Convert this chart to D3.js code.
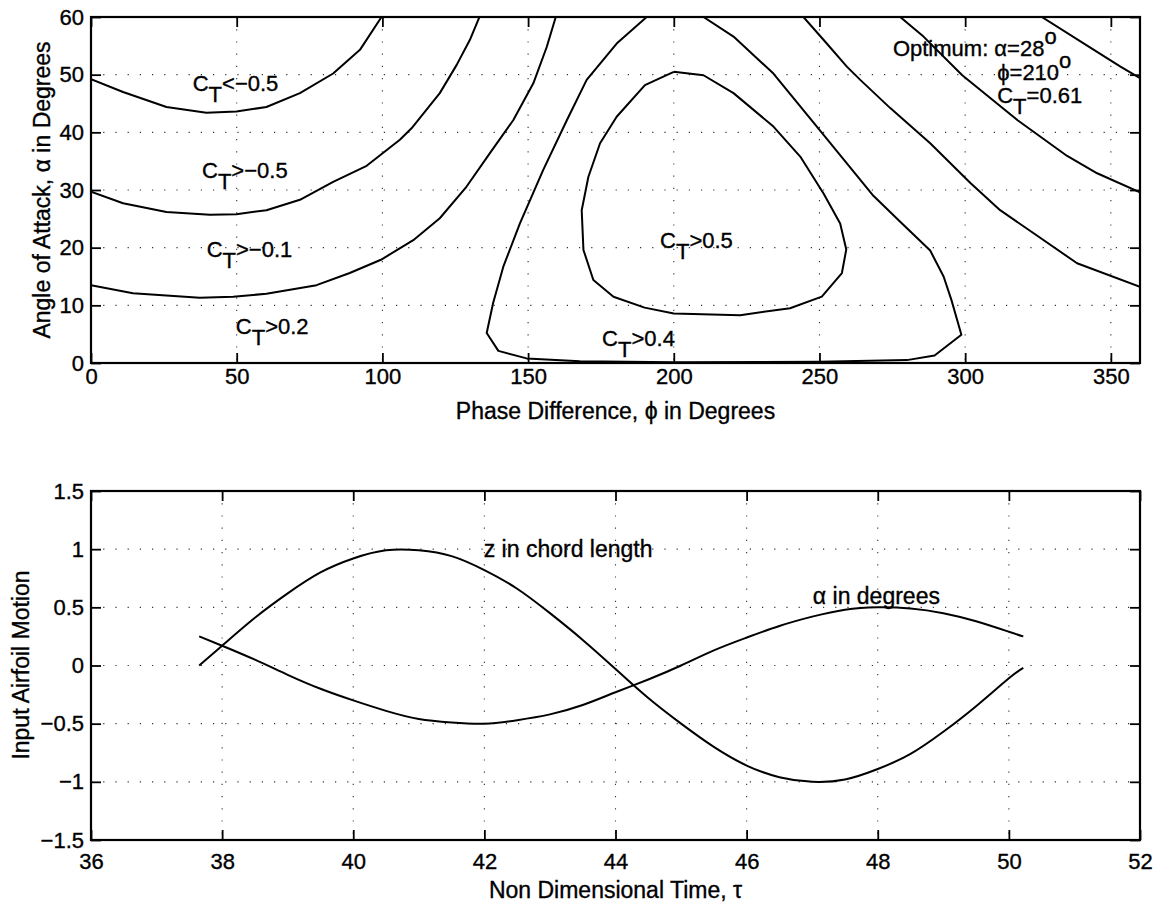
<!DOCTYPE html>
<html lang="en">
<head>
<meta charset="utf-8">
<title>Thrust coefficient map and airfoil motion</title>
<script src="https://cdn.jsdelivr.net/npm/d3@7"></script>
<style>
  body { margin: 0; background: #fff; }
  svg { display: block; font-family: "Liberation Sans", Arial, Helvetica, sans-serif; }
  svg text { stroke: #000; stroke-width: 0.35; }
  .grid line { stroke: #333; stroke-width: 1.1; stroke-dasharray: 1.2 11; }
  .curve { fill: none; stroke: #000; stroke-width: 2; stroke-linejoin: round; }
  .note { font-size: 22px; fill: #000; }
  .note.big { font-size: 23px; }
  .axis-title { font-size: 23px; fill: #000; }
</style>
</head>
<body>
<script>

// C_T contours, [phase difference (deg), angle of attack (deg)]
var ctMinus05Left = [[0,49.2],[11,47.0],[25.9,44.4],[39.6,43.4],[49.9,43.6],[60.2,44.4],[71.7,46.8],[83.1,50.2],[92.3,54.3],[99.7,60]];
var ctMinus01Left = [[0,29.7],[11,27.7],[25.9,26.2],[40.8,25.7],[49.9,25.8],[60.2,26.5],[71.7,28.3],[83.1,31.4],[94.6,34.2],[106,38.7],[110,40.7],[119.7,46.8],[125.5,51.7],[130,56.0],[133.3,60]];
var ctPlus02Left = [[0,13.5],[14.4,12.1],[37.3,11.3],[48.8,11.5],[60.2,12.0],[77.4,13.5],[88.8,15.6],[99.5,17.9],[110.6,21.3],[119.7,25.1],[128.9,30.6],[136.9,36.4],[144.9,42.1],[151.8,48.5],[156.4,54.8],[159.5,60]];
var ctPlus04 = [[190.7,60],[180.4,55.4],[170.1,49.1],[163.3,42.1],[155.2,33.5],[147.2,24.2],[141.5,16.7],[138.0,10.4],[135.8,5.2],[139.8,2.1],[149.5,0.8],[167.8,0.3],[200,0.15],[250,0.2],[280,0.5],[289.5,1.3],[298.7,4.9],[295.3,10.9],[292.6,15.0],[288,19.5],[277.7,24.5],[268.5,29.0],[259.4,34.6],[249.1,41.0],[234.2,50.2],[220.5,56.6],[210.2,60]];
var ctPlus05 = [[200,50.5],[210.2,49.9],[220.5,46.8],[234.2,41.0],[243.4,35.8],[251.4,29.4],[257.1,24.2],[259.2,19.7],[257.7,15.6],[250.8,11.5],[239.9,9.5],[222.8,8.3],[200,8.6],[190,9.6],[179.3,11.5],[172.4,14.4],[169.0,19.6],[168.4,26.5],[170.7,32.3],[174.7,38.1],[180.4,42.7],[190.1,48.2],[195.3,49.4],[200,50.5]];
var ctPlus02Right = [[244.5,60],[252.5,55.4],[259.4,51.4],[264,49.1],[274.3,44.2],[288,38.1],[301.8,31.2],[312,26.5],[323.5,22.5],[338.4,17.3],[360,13.2]];
var ctMinus01Right = [[277.7,60],[285.7,56.6],[299,49.9],[318,42.1],[335,35.9],[345.3,32.9],[360,29.6]];
var ctMinus05Right = [[326.3,60],[343.5,54.5],[353.3,51.4],[360,49.4]];

var contours = [ctMinus05Left, ctMinus01Left, ctPlus02Left, ctPlus04, ctPlus05,
                ctPlus02Right, ctMinus01Right, ctMinus05Right];

// region labels, anchored in (phi, alpha)
var regionLabels = [
  {rel: "<\u22120.5", phi: 34.9, alpha: 47.1},
  {rel: ">\u22120.5", phi: 38.1, alpha: 32.0},
  {rel: ">\u22120.1", phi: 39.7, alpha: 18.4},
  {rel: ">0.2",       phi: 49.7, alpha: 5.0},
  {rel: ">0.4",       phi: 175.4, alpha: 2.9},
  {rel: ">0.5",       phi: 195.3, alpha: 20.0}
];

// input motion vs non-dimensional time
var tau = [37.65,38,38.5,39,39.5,40,40.5,41,41.5,42,42.5,43,43.5,44,44.5,45,45.5,46,46.5,47,47.5,48,48.5,49,49.5,50,50.22];
var zChord = [0,0.17,0.41,0.62,0.80,0.92,0.99,0.99,0.94,0.82,0.66,0.45,0.22,-0.03,-0.28,-0.50,-0.70,-0.86,-0.96,-1.00,-0.98,-0.89,-0.76,-0.57,-0.35,-0.11,-0.02];
var alphaIn = [0.25,0.17,0.05,-0.08,-0.20,-0.30,-0.39,-0.46,-0.49,-0.50,-0.47,-0.42,-0.34,-0.23,-0.12,0.00,0.13,0.24,0.34,0.42,0.48,0.50,0.49,0.45,0.38,0.29,0.25];

var phiTicks = [0,50,100,150,200,250,300,350];
var alphaTicks = [0,10,20,30,40,50,60];
var tauTicks = [36,38,40,42,44,46,48,50,52];
var motionTicks = [-1.5,-1,-0.5,0,0.5,1,1.5];

var w = 1158, h = 905;

var svg = d3.select("body").append("svg")
  .attr("width", w)
  .attr("height", h);

svg.append("rect").attr("width", w).attr("height", h).attr("fill", "#fff");

function minus(d) {
  return (d < 0 ? "\u2212" : "") + Math.abs(d);
}

// box with inward ticks on all four sides and a dotted grid
function drawFrame(g, x, y, xTicks, yTicks, xPad) {
  var pw = x.range()[1], ph = y.range()[0];
  var grid = g.append("g").attr("class", "grid");

  grid.selectAll(".gx")
    .data(xTicks.filter(function(d) { return x(d) > 1 && x(d) < pw - 1; }))
    .enter().append("line")
    .attr("x1", x).attr("x2", x)
    .attr("y1", 0).attr("y2", ph);

  grid.selectAll(".gy")
    .data(yTicks.filter(function(d) { return y(d) > 1 && y(d) < ph - 1; }))
    .enter().append("line")
    .attr("y1", y).attr("y2", y)
    .attr("x1", 0).attr("x2", pw);

  var axes = [
    g.append("g").attr("transform", "translate(0," + ph + ")")
      .call(d3.axisBottom(x).tickValues(xTicks).tickSizeInner(-10).tickSizeOuter(0).tickPadding(xPad).tickFormat(minus)),
    g.append("g")
      .call(d3.axisTop(x).tickValues(xTicks).tickSizeInner(-10).tickSizeOuter(0).tickFormat("")),
    g.append("g")
      .call(d3.axisLeft(y).tickValues(yTicks).tickSizeInner(-10).tickSizeOuter(0).tickPadding(7).tickFormat(minus)),
    g.append("g").attr("transform", "translate(" + pw + ",0)")
      .call(d3.axisRight(y).tickValues(yTicks).tickSizeInner(-10).tickSizeOuter(0).tickFormat(""))
  ];

  axes.forEach(function(a) {
    a.attr("font-family", null).attr("font-size", 22);
    a.select(".domain").remove();
    a.selectAll(".tick line").attr("stroke-width", 1.8);
    a.selectAll("text").attr("fill", "#000");
  });

  g.append("rect")
    .attr("width", pw).attr("height", ph)
    .attr("fill", "none").attr("stroke", "#000").attr("stroke-width", 2.2);
}

// C with subscript T followed by the rest of the label
function ctText(sel, rest) {
  sel.append("tspan").text("C");
  sel.append("tspan").attr("dy", "0.5em").text("T");
  sel.append("tspan").attr("dy", "-0.5em").text(rest);
}

/* ---------- upper panel: contour map ---------- */
var mapPanel = svg.append("g").attr("transform", "translate(91,17)");

var xPhi = d3.scaleLinear().domain([0, 360]).range([0, 1049]);
var yAlpha = d3.scaleLinear().domain([0, 60]).range([346, 0]);

svg.append("clipPath").attr("id", "clipMap")
  .append("rect").attr("width", 1049).attr("height", 346);

drawFrame(mapPanel, xPhi, yAlpha, phiTicks, alphaTicks, 5);

var contourLine = d3.line()
  .x(function(d) { return xPhi(d[0]); })
  .y(function(d) { return yAlpha(d[1]); });

mapPanel.append("g").attr("clip-path", "url(#clipMap)")
  .selectAll("path")
  .data(contours)
  .enter().append("path")
  .attr("class", "curve")
  .attr("d", contourLine);

mapPanel.selectAll(".region")
  .data(regionLabels)
  .enter().append("text")
  .attr("class", "note")
  .attr("x", function(d) { return xPhi(d.phi); })
  .attr("y", function(d) { return yAlpha(d.alpha); })
  .each(function(d) { ctText(d3.select(this), d.rel); });

// optimum annotation
var opt = mapPanel.append("text").attr("class", "note")
  .attr("x", xPhi(275.2)).attr("y", yAlpha(53.2));
opt.append("tspan").text("Optimum: \u03b1=28");
opt.append("tspan").attr("dy", "-0.55em").text("o");

var optPhi = mapPanel.append("text").attr("class", "note")
  .attr("x", xPhi(311)).attr("y", yAlpha(49.1));
optPhi.append("tspan").text("\u03d5=210");
optPhi.append("tspan").attr("dy", "-0.55em").text("o");

ctText(mapPanel.append("text").attr("class", "note")
  .attr("x", xPhi(311)).attr("y", yAlpha(45.1)), "=0.61");

mapPanel.append("text").attr("class", "axis-title")
  .attr("x", 524.5).attr("y", 402)
  .attr("text-anchor", "middle")
  .text("Phase Difference, \u03d5 in Degrees");

mapPanel.append("text").attr("class", "axis-title")
  .attr("transform", "translate(-41,173) rotate(-90)")
  .attr("text-anchor", "middle")
  .text("Angle of Attack, \u03b1 in Degrees");

/* ---------- lower panel: airfoil motion ---------- */
var motionPanel = svg.append("g").attr("transform", "translate(91,491)");

var xTau = d3.scaleLinear().domain([36, 52]).range([0, 1049]);
var yMotion = d3.scaleLinear().domain([-1.5, 1.5]).range([349, 0]);

drawFrame(motionPanel, xTau, yMotion, tauTicks, motionTicks, 13);

var motionLine = function(values) {
  return d3.line()
    .x(function(d, i) { return xTau(tau[i]); })
    .y(function(d) { return yMotion(d); })
    .curve(d3.curveNatural)(values);
};

motionPanel.append("path").attr("class", "curve").attr("d", motionLine(zChord));
motionPanel.append("path").attr("class", "curve").attr("d", motionLine(alphaIn));

motionPanel.append("text").attr("class", "note big")
  .attr("x", xTau(41.99)).attr("y", yMotion(0.93))
  .text("z in chord length");

motionPanel.append("text").attr("class", "note big")
  .attr("x", xTau(47.01)).attr("y", yMotion(0.53))
  .text("\u03b1 in degrees");

motionPanel.append("text").attr("class", "axis-title")
  .attr("x", 524.5).attr("y", 407)
  .attr("text-anchor", "middle")
  .text("Non Dimensional Time, \u03c4");

motionPanel.append("text").attr("class", "axis-title")
  .attr("transform", "translate(-62,174) rotate(-90)")
  .attr("text-anchor", "middle")
  .text("Input Airfoil Motion");

</script>
</body>
</html>
